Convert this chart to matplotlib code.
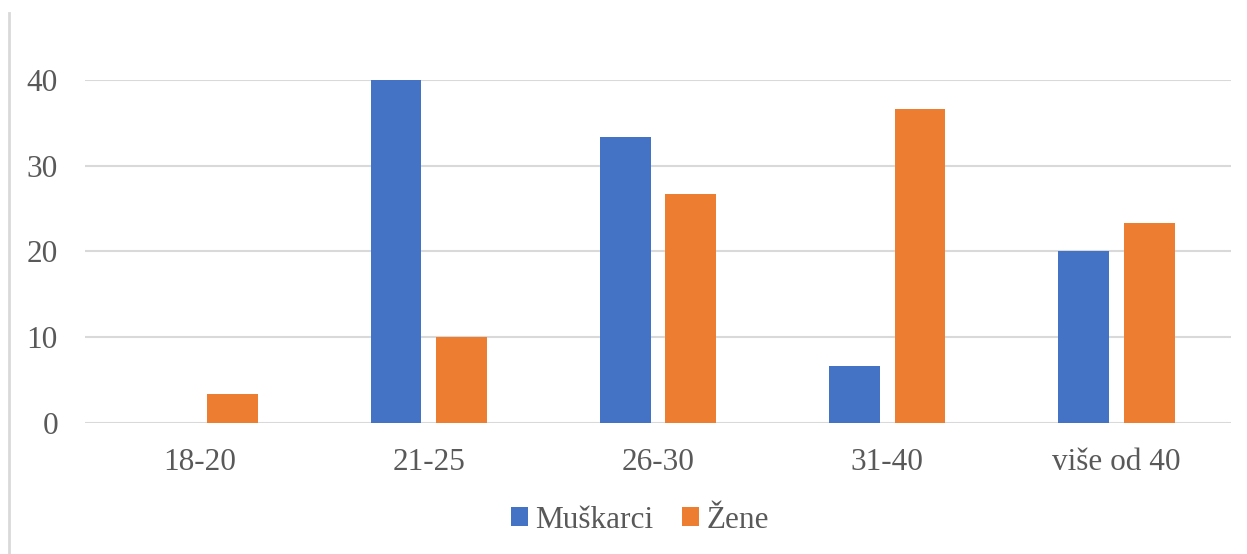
import matplotlib.pyplot as plt
import numpy as np
from matplotlib.lines import Line2D

categories = ["18-20", "21-25", "26-30", "31-40", "više od 40"]
muskarci = [0, 40, 33.33, 6.67, 20]
zene = [3.33, 10, 26.67, 36.67, 23.33]

plt.rcParams['font.family'] = ['Liberation Serif', 'DejaVu Serif']

W, H = 1247, 554
fig = plt.figure(figsize=(W / 100, H / 100), dpi=100)
ax = fig.add_axes([85 / W, 1 - 423 / H, (1231 - 85) / W, (423 - 80) / H])

x = np.arange(len(categories))
bw = 0.222
off = 0.143
ax.bar(x - off, muskarci, bw, color='#4472C4', label='Muškarci', zorder=3)
ax.bar(x + off, zene, bw, color='#ED7D31', label='Žene', zorder=3)

ax.set_xlim(-0.5, len(categories) - 0.5)
ax.set_ylim(0, 40)
ax.set_yticks([0, 10, 20, 30, 40])
ax.set_xticks(x)
ax.set_xticklabels(categories)
ax.yaxis.grid(True, color='#d9d9d9', lw=1.5, zorder=0)
ax.set_axisbelow(True)
for s in ax.spines.values():
    s.set_visible(False)
ax.tick_params(axis='both', length=0, labelsize=22.5, labelcolor='#595959')
ax.tick_params(axis='y', pad=19.5)
ax.tick_params(axis='x', pad=18)

# thin border line on the left of the picture
fig.add_artist(Line2D([9 / W, 9 / W], [0, 1 - 13 / H], color='#d9d9d9', lw=2))

fig.legend(loc='center', bbox_to_anchor=(640 / W, 1 - 520 / H), ncol=2, frameon=False,
           fontsize=22.5, labelcolor='#595959', handlelength=0.55, handleheight=0.55,
           handletextpad=0.25, columnspacing=0.9)

fig.savefig('out.png', dpi=100)
